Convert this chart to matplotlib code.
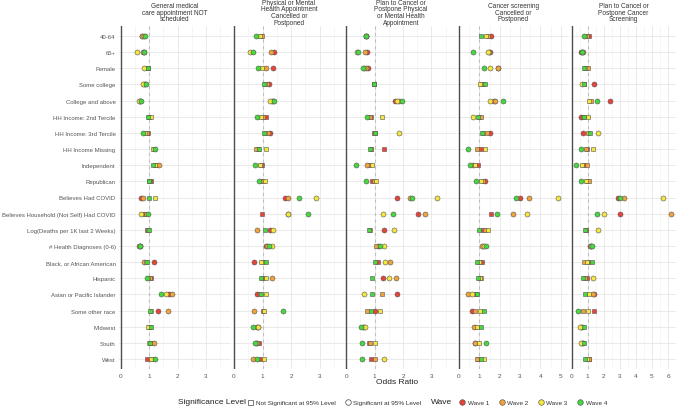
import numpy as np
import matplotlib
matplotlib.use("Agg")
from matplotlib import pyplot as plt
from matplotlib.lines import Line2D

plt.rcParams['font.family'] = ['Liberation Sans', 'DejaVu Sans']

rows = ["40-64", "65+", "Female", "Some college", "College and above",
        "HH Income: 2nd Tercile", "HH Income: 3rd Tercile", "HH Income Missing",
        "Independent", "Republican", "Believes Had COVID",
        "Believes Household (Not Self) Had COVID", "Log(Deaths per 1K last 2 Weeks)",
        "# Health Diagnoses (0-6)", "Black, or African American", "Hispanic",
        "Asian or Pacific Islander", "Some other race", "Midwest", "South", "West"]

titles = ["General medical\ncare appointment NOT\nscheduled",
          "Physical or Mental\nHealth Appointment\nCancelled or\nPostponed",
          "Plan to Cancel or\nPostpone Physical\nor Mental Health\nAppointment",
          "Cancer screening\nCancelled or\nPostponed",
          "Plan to Cancel or\nPostpone Cancer\nScreening"]

waves = ["Wave 1", "Wave 2", "Wave 3", "Wave 4"]
wave_colors = ["#e8423b", "#f0a23c", "#f4e63c", "#44d93d"]

# odds ratios, one row per variable: [wave1, wave2, wave3, wave4]
or_p1 = [[0.76, 0.73, 0.80, 0.85], [0.80, 0.78, 0.55, 0.81], [0.95, 0.93, 0.82, 0.97],
         [0.85, 0.83, 0.79, 0.88], [0.68, 0.66, 0.65, 0.72], [1.00, 0.98, 1.05, 0.94],
         [0.95, 0.92, 0.85, 0.79], [1.18, 1.16, 1.12, 1.21], [1.25, 1.34, 1.20, 1.12],
         [1.05, 1.02, 1.00, 0.99], [0.71, 0.79, 1.21, 0.99], [0.83, 0.90, 0.71, 0.97],
         [0.91, 0.95, 0.97, 1.00], [0.66, 0.65, 0.66, 0.66], [1.18, 0.81, 0.88, 0.92],
         [1.05, 1.02, 0.95, 0.92], [1.71, 1.81, 1.60, 1.40], [1.31, 1.68, 1.05, 1.02],
         [1.02, 1.00, 0.97, 1.05], [1.05, 1.15, 1.00, 1.02], [0.91, 1.08, 1.05, 1.22]]
or_p2 = [[0.95, 0.98, 0.92, 0.78], [1.39, 1.31, 0.57, 0.65], [1.37, 1.12, 0.99, 0.85],
         [1.22, 1.15, 1.08, 1.06], [1.35, 1.32, 1.26, 1.39], [1.12, 1.00, 0.95, 0.82],
         [1.27, 1.19, 1.10, 1.04], [0.85, 0.77, 1.13, 0.89], [0.97, 0.94, 0.92, 0.74],
         [0.97, 1.00, 1.08, 0.89], [1.78, 1.88, 2.86, 2.27], [0.99, 1.88, 1.90, 2.59],
         [1.27, 0.80, 1.37, 1.08], [1.13, 1.15, 1.32, 1.24], [0.71, 1.00, 0.95, 1.13],
         [1.00, 1.32, 1.13, 0.95], [0.80, 0.90, 1.11, 0.95], [1.00, 0.71, 1.04, 1.70],
         [0.80, 0.85, 0.83, 0.68], [0.89, 0.80, 0.78, 0.72], [0.92, 0.68, 1.04, 0.80]]
or_p3 = [[0.70, 0.69, 0.68, 0.70], [0.72, 0.67, 0.38, 0.40], [0.77, 0.70, 0.62, 0.59],
         [0.96, 0.97, 0.99, 0.98], [1.73, 1.87, 1.80, 1.96], [0.87, 0.84, 1.27, 0.73],
         [0.98, 1.00, 1.86, 1.00], [1.32, 0.88, 0.86, 0.84], [0.80, 0.72, 0.91, 0.34],
         [0.91, 0.98, 1.06, 0.68], [1.77, 2.25, 3.20, 2.31], [2.51, 2.77, 1.29, 1.64],
         [1.32, 0.85, 1.69, 0.79], [1.10, 1.05, 1.32, 1.20], [1.13, 1.54, 1.35, 1.00],
         [1.29, 1.76, 1.52, 0.91], [1.80, 1.27, 0.64, 0.89], [1.01, 0.74, 1.17, 0.86],
         [0.62, 0.60, 0.67, 0.51], [0.80, 0.84, 1.02, 0.57], [0.87, 1.02, 1.32, 0.54]]
or_p4 = [[1.59, 1.45, 1.32, 1.06], [1.52, 1.48, 1.45, 0.67], [1.90, 1.94, 1.53, 1.24],
         [1.20, 1.15, 1.04, 1.27], [1.70, 1.76, 1.51, 2.18], [1.00, 1.06, 0.67, 0.91],
         [1.50, 1.40, 1.20, 1.14], [1.07, 0.86, 1.28, 0.42], [0.94, 0.68, 0.80, 0.55],
         [1.28, 1.18, 1.07, 0.83], [2.99, 3.43, 4.89, 2.78], [1.59, 2.65, 3.35, 1.89],
         [1.19, 1.28, 1.45, 0.99], [1.20, 1.14, 1.25, 1.35], [1.14, 1.05, 1.00, 0.86],
         [1.05, 1.09, 1.05, 0.94], [0.85, 0.45, 0.63, 0.88], [0.62, 0.81, 1.01, 1.24],
         [0.80, 0.75, 0.86, 1.09], [0.77, 0.80, 0.96, 1.32], [0.95, 0.88, 1.25, 1.06]]
or_p5 = [[1.06, 0.95, 0.85, 0.77], [0.56, 0.70, 0.62, 0.66], [0.90, 1.00, 0.85, 0.77],
         [1.40, 0.75, 0.64, 0.79], [2.37, 1.20, 1.08, 1.56], [0.58, 0.70, 1.04, 0.79],
         [0.71, 1.00, 1.64, 1.12], [0.96, 0.90, 1.35, 0.56], [0.80, 0.93, 0.62, 0.25],
         [0.95, 1.06, 0.87, 0.60], [2.89, 3.25, 5.66, 3.02], [3.02, 6.19, 2.02, 1.60],
         [0.90, 0.88, 1.66, 0.85], [1.14, 1.20, 1.18, 1.25], [1.00, 0.75, 0.93, 1.25],
         [0.93, 0.85, 1.35, 0.73], [1.40, 1.35, 1.10, 0.83], [1.41, 0.69, 0.99, 0.39],
         [0.65, 0.60, 0.52, 0.77], [0.70, 0.62, 0.60, 0.79], [1.05, 1.08, 0.95, 0.83]]

# significance per wave: o = significant at 95%, s = not significant
sig_p1 = ["oooo", "oooo", "ssos", "oooo", "oooo", "ssss", "ssso", "ssso", "soss", "ssss", "ooss",
          "ssoo", "ssss", "oooo", "ooss", "ssso", "oooo", "ooss", "ssss", "soss", "ssso"]
sig_p2 = ["ssso", "oooo", "ooso", "osss", "oooo", "ssso", "osss", "ssss", "ssso", "ssso", "oooo",
          "sooo", "ooos", "oooo", "osss", "soss", "osss", "soso", "oooo", "sooo", "soso"]
sig_p3 = ["oooo", "oooo", "oooo", "ssss", "oooo", "ssso", "ssos", "ssss", "soso", "ssso", "oooo",
          "oooo", "osos", "osoo", "soos", "ooos", "osos", "osss", "oooo", "ssso", "ssoo"]
sig_p4 = ["osss", "oooo", "oooo", "ssss", "oooo", "ssos", "osss", "ssso", "soso", "osso", "oooo",
          "sooo", "ssss", "oooo", "ssss", "ssss", "soos", "osss", "soss", "ooso", "ssss"]
sig_p5 = ["ssso", "oooo", "ssss", "osos", "osso", "osss", "osos", "ssso", "ssso", "ssso", "oooo",
          "oooo", "ssos", "oooo", "ssss", "ssos", "ooss", "ssso", "ooos", "ooos", "ssss"]

panels = [(or_p1, sig_p1), (or_p2, sig_p2), (or_p3, sig_p3), (or_p4, sig_p4), (or_p5, sig_p5)]
xlims = [(-0.07, 3.89), (-0.035, 3.89), (-0.046, 3.9), (-0.05, 5.41), (-0.04, 6.5)]
xticks = [[0, 1, 2, 3], [0, 1, 2, 3], [0, 1, 2, 3], [0, 1, 2, 3, 4, 5], [0, 1, 2, 3, 4, 5, 6]]
px_left = [119, 233, 345, 458, 571]
px_right = [231, 345, 457, 569, 676]

W, H = 677, 410
fig = plt.figure(figsize=(W / 100, H / 100), dpi=100)
top_px, bot_px = 27.3, 369.7

y = np.arange(len(rows))
for k, (vals, sig) in enumerate(panels):
    ax = fig.add_axes([px_left[k] / W, 1 - bot_px / H, (px_right[k] - px_left[k]) / W,
                       (bot_px - top_px) / H])
    ax.set_xlim(*xlims[k])
    ax.set_ylim(len(rows) - 0.4, -0.6)
    for s in ax.spines.values():
        s.set_visible(False)
    ax.set_xticks(xticks[k])
    ax.set_xticks(np.arange(0.5, xlims[k][1], 1.0), minor=True)
    ax.grid(axis='x', which='major', color='#e6e6e6', lw=0.6)
    ax.grid(axis='x', which='minor', color='#f0f0f0', lw=0.4)
    for yy in y:
        ax.axhline(yy, color='#e6e6e6', lw=0.6, zorder=0)
    ax.set_axisbelow(True)
    ax.axvline(0, color='#4d4d4d', lw=1.0, zorder=1)
    ax.axvline(1, color='#c0c0c0', lw=0.8, ls=(0, (3, 3)), zorder=1)
    ax.tick_params(axis='x', length=0, labelsize=4.6, labelcolor='#555555', pad=3)
    ax.tick_params(axis='y', length=0, labelsize=4.3, labelcolor='#555555', pad=2.5)
    ax.tick_params(axis='x', which='minor', length=0)
    ax.set_yticks(y)
    if k == 0:
        ax.set_yticklabels(rows)
    else:
        ax.set_yticklabels([])
    vals = np.array(vals)
    for w in range(4):
        for r in range(len(rows)):
            mk = 'o' if sig[r][w] == 'o' else 's'
            ax.plot(vals[r, w], r, marker=mk, ms=3.6 if mk == 'o' else 3.2,
                    mfc=wave_colors[w], mec='#555555', mew=0.4, ls='none', zorder=3)
    fig.text((px_left[k] + px_right[k]) / 2 / W, 1 - 13.2 / H, titles[k], ha='center',
             va='center', fontsize=4.7, color='#333333', linespacing=0.92)

fig.text(397 / W, 1 - 383 / H, "Odds Ratio", ha='center', va='center', fontsize=6, color='#222222')

fig.text(212 / W, 1 - 403 / H, "Significance Level", ha='center', va='center', fontsize=6, color='#222222')
sig_handles = [Line2D([], [], marker='s', ls='none', mfc='white', mec='#444444', mew=0.5, ms=3.6),
               Line2D([], [], marker='o', ls='none', mfc='white', mec='#444444', mew=0.5, ms=4)]
leg1 = fig.legend(sig_handles, ["Not Significant at 95% Level", "Significant at 95% Level"],
                  loc='center', bbox_to_anchor=(334 / W, 1 - 403 / H), ncol=2, frameon=False,
                  fontsize=4.6, handlelength=1.0, handletextpad=0.4, columnspacing=1.4)
for t in leg1.get_texts():
    t.set_color('#333333')

fig.text(442 / W, 1 - 403 / H, "Wave", ha='center', va='center', fontsize=6, color='#222222')
wave_handles = [Line2D([], [], marker='o', ls='none', mfc=c, mec='#444444', mew=0.4, ms=4)
                for c in wave_colors]
leg2 = fig.legend(wave_handles, waves, loc='center', bbox_to_anchor=(533 / W, 1 - 403 / H),
                  ncol=4, frameon=False, fontsize=4.6, handlelength=1.0, handletextpad=0.4,
                  columnspacing=1.4)
for t in leg2.get_texts():
    t.set_color('#333333')

fig.savefig("out.png", dpi=100)
